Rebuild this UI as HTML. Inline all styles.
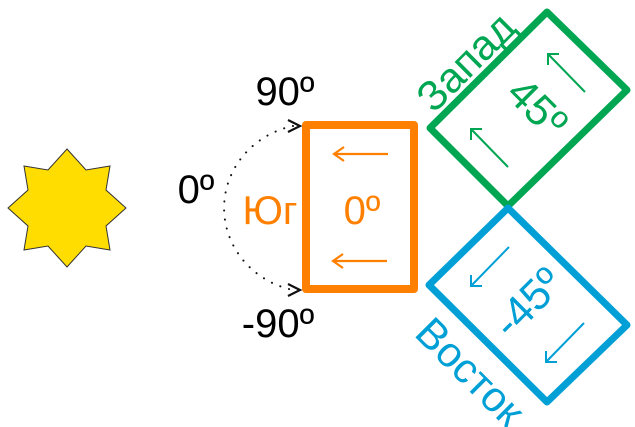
<!DOCTYPE html>
<html><head><meta charset="utf-8"><style>
html,body{margin:0;padding:0;background:#fff;}
svg{display:block;font-family:"Liberation Sans",sans-serif;}
</style></head><body>
<svg width="635" height="427" viewBox="0 0 635 427" xmlns="http://www.w3.org/2000/svg">
<polygon fill="#FFDD00" stroke="#333" stroke-width="1" points="
67,149 86,170 110,166 106,190 126,208 106,226 110,250 86,246 67,267 48,246 24,250 28,226 8,208 28,190 24,166 48,170"/>
<path d="M293,126 A88,84 0 0 0 293,290" fill="none" stroke="#111" stroke-width="2" stroke-dasharray="0.1 9" stroke-linecap="round"/>
<path d="M288,120 L300,126 L288,132" fill="none" stroke="#111" stroke-width="2.2"/>
<path d="M288,284 L300,290 L288,296" fill="none" stroke="#111" stroke-width="2.2"/>
<text x="285" y="105" font-size="40" text-anchor="middle" fill="#000">90º</text>
<text x="196" y="203" font-size="40" text-anchor="middle" fill="#000">0º</text>
<text x="278" y="337" font-size="40" text-anchor="middle" fill="#000">-90º</text>
<rect x="306" y="125" width="108" height="164" fill="none" stroke="#FF8000" stroke-width="8" stroke-linejoin="round"/>
<text x="270" y="224" font-size="40" text-anchor="middle" fill="#FF8000">Юг</text>
<text x="362" y="224" font-size="40" text-anchor="middle" fill="#FF8000">0º</text>
<g stroke="#FF8000" stroke-width="2.2" fill="none">
<path d="M388,154 L334,154 M344,147 L334,154 L344,161"/>
<path d="M387,261 L333,261 M343,254 L333,261 L343,268"/>
</g>
<polygon points="547,12 627,90 508,206 430,128" fill="none" stroke="#00A651" stroke-width="7" stroke-linejoin="round"/>
<polygon points="508,208 627,325 547,402 429,285" fill="none" stroke="#00A0D6" stroke-width="7" stroke-linejoin="round"/>
<g stroke="#00A651" stroke-width="2" fill="none">
<path d="M508,167 L471,129 M471,140 L471,129 L482,129"/>
<path d="M585,92 L548,54 M548,65 L548,54 L559,54"/>
</g>
<g stroke="#00A0D6" stroke-width="2" fill="none">
<path d="M509,247 L471,286 M471,275 L471,286 L482,286"/>
<path d="M584,323 L546,362 M546,351 L546,362 L557,362"/>
</g>
<text transform="translate(527,118) rotate(45)" font-size="43" text-anchor="middle" fill="#00A651">45º</text>
<text transform="translate(476,72) rotate(-45)" font-size="42" text-anchor="middle" fill="#00A651">Запад</text>
<text transform="translate(538,313) rotate(-45)" font-size="43" text-anchor="middle" fill="#00A0D6">-45º</text>
<text transform="translate(460,382) rotate(45)" font-size="42" text-anchor="middle" fill="#00A0D6">Восток</text>
</svg>
</body></html>
